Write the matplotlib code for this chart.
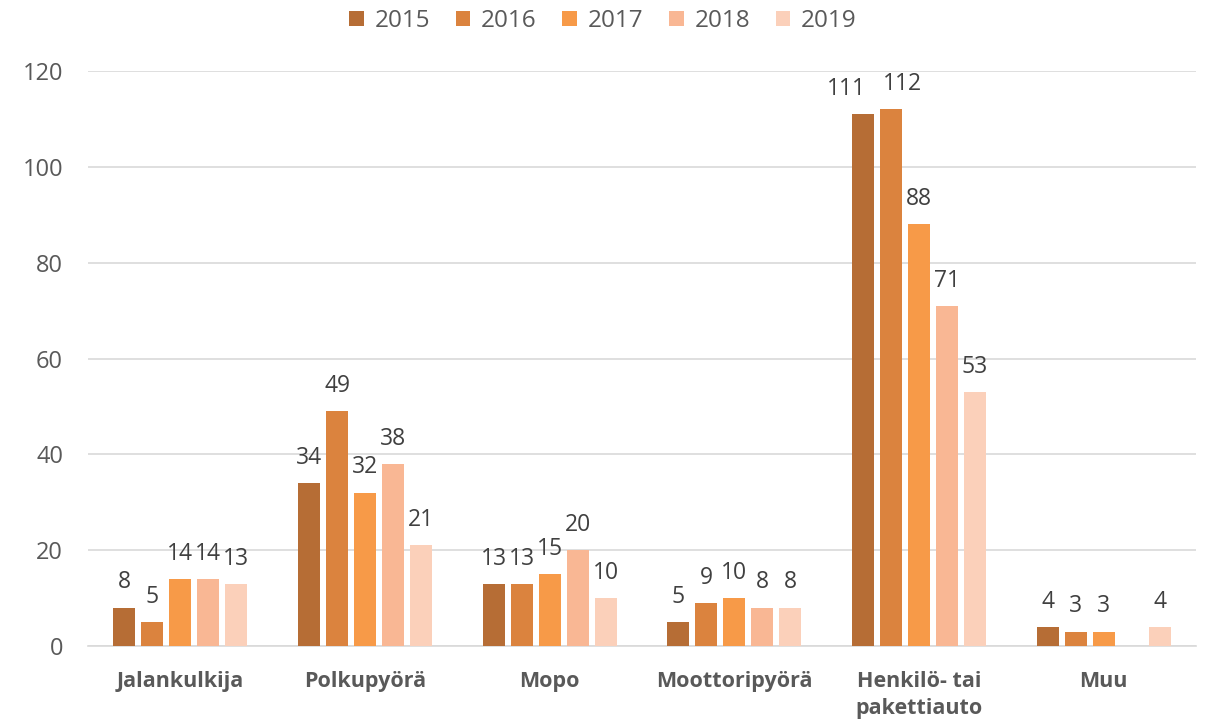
import matplotlib
matplotlib.use("Agg")
import matplotlib.pyplot as plt
import numpy as np

categories = ["Jalankulkija", "Polkupyörä", "Mopo", "Moottoripyörä", "Henkilö- tai\npakettiauto", "Muu"]
years = ["2015", "2016", "2017", "2018", "2019"]
values = {
    "2015": [8, 34, 13, 5, 111, 4],
    "2016": [5, 49, 13, 9, 112, 3],
    "2017": [14, 32, 15, 10, 88, 3],
    "2018": [14, 38, 20, 8, 71, None],
    "2019": [13, 21, 10, 8, 53, 4],
}
colors = ["#B66D35", "#DB833E", "#F79A48", "#F9B794", "#FBD0BA"]

plt.rcParams['font.family'] = ['Open Sans', 'DejaVu Sans']
fig = plt.figure(figsize=(12.06, 7.27), dpi=100)
ax = fig.add_axes([0.073, 0.1114, 0.9187, 0.7909])

x = np.arange(len(categories))
slot = 0.1516
width = 0.119
# horizontal nudges (points) for labels that would collide
nudge = {("2015", 4): -12, ("2016", 4): 8}
for i, yr in enumerate(years):
    vals = [np.nan if v is None else v for v in values[yr]]
    pos = x + (i - 2) * slot
    ax.bar(pos, vals, width=width, color=colors[i], label=yr, zorder=3)
    for j, (p, v) in enumerate(zip(pos, values[yr])):
        if v is None:
            continue
        dx = nudge.get((yr, j), 0)
        ax.annotate(str(v), (p, v), xytext=(dx, 9.5), textcoords='offset points',
                    ha='center', va='bottom', fontsize=16.5, color='#404040')

ax.set_ylim(0, 120)
ax.set_xlim(-0.5, len(categories) - 0.5)
ax.set_yticks(range(0, 121, 20))
ax.grid(axis='y', color='#D9D9D9', linewidth=1.2, zorder=0)
for s in ['top', 'right', 'left']:
    ax.spines[s].set_visible(False)
ax.spines['bottom'].set_color('#D9D9D9')
ax.spines['bottom'].set_linewidth(1.2)
ax.tick_params(axis='y', length=0, labelsize=17, labelcolor='#595959', pad=18)
ax.tick_params(axis='x', length=0, labelsize=15.5, labelcolor='#595959', pad=18)
ax.set_xticks(x)
ax.set_xticklabels(categories, fontweight='bold', va='top', linespacing=1.35)

fig.legend(*ax.get_legend_handles_labels(), loc='upper center', bbox_to_anchor=(0.5, 1.018),
           ncol=5, frameon=False, fontsize=17.5, handlelength=0.6, handleheight=0.6,
           handletextpad=0.45, columnspacing=1.05, labelcolor='#595959')

fig.savefig("out.png", dpi=100)
